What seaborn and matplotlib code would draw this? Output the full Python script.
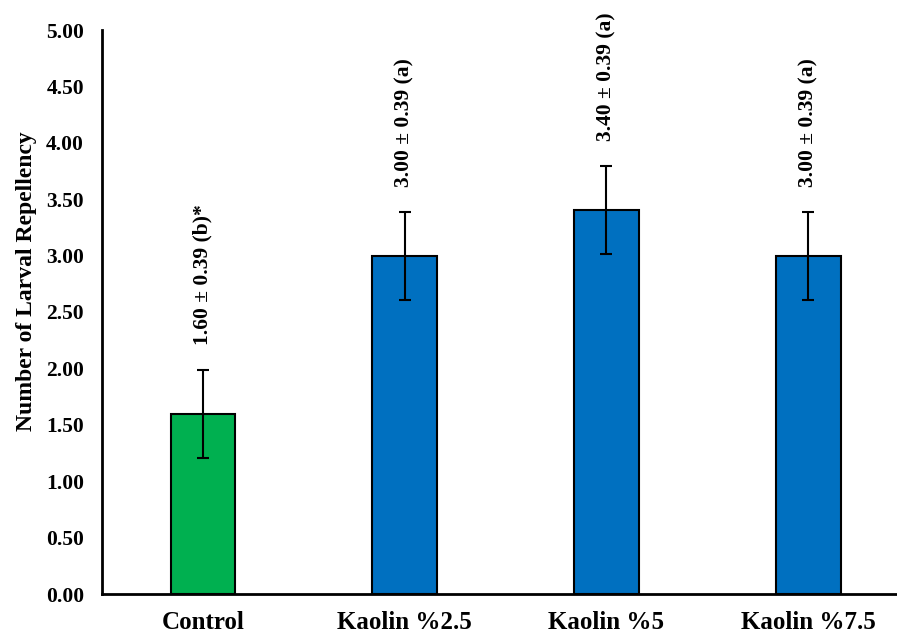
import matplotlib
matplotlib.use("Agg")
import matplotlib.pyplot as plt
import seaborn as sns
import pandas as pd

categories = ["Control", "Kaolin %2.5", "Kaolin %5", "Kaolin %7.5"]
means = [1.60, 3.00, 3.40, 3.00]
errors = [0.39, 0.39, 0.39, 0.39]
letters = ["(b)*", "(a)", "(a)", "(a)"]
colors = ["#00B050", "#0070C0", "#0070C0", "#0070C0"]
y_ticks = [0.0, 0.5, 1.0, 1.5, 2.0, 2.5, 3.0, 3.5, 4.0, 4.5, 5.0]

sns.set_style("white")
plt.rcParams["font.family"] = ["Liberation Serif", "DejaVu Serif"]
plt.rcParams["font.weight"] = "bold"
for k in ["text.color", "axes.labelcolor", "xtick.color", "ytick.color"]:
    plt.rcParams[k] = "black"

df = pd.DataFrame({"cat": categories, "val": means})

fig = plt.figure(figsize=(8.97, 6.34), dpi=100)
ax = fig.add_axes([102 / 897, 1 - 594 / 634, 1 - 102 / 897, (594 - 30) / 634])

sns.barplot(data=df, x="cat", y="val", hue="cat", palette=colors, legend=False,
            saturation=1, width=0.32, edgecolor="black", linewidth=1.5,
            errorbar=None, ax=ax)
ax.errorbar(range(len(categories)), means, yerr=errors, fmt="none",
            ecolor="black", elinewidth=1.5, capsize=4.5, capthick=1.5)

for i, (m, e, l) in enumerate(zip(means, errors, letters)):
    ax.annotate(f"{m:.2f} \u00b1 {e:.2f} {l}", xy=(i, m + e), xytext=(0, 18),
                textcoords="offset points", rotation=90, ha="center", va="bottom",
                fontsize=15.5, fontweight="bold", color="black")

ax.set_xlim(-0.5, 3.44)
ax.set_ylim(0, 5)
ax.set_yticks(y_ticks)
ax.set_yticklabels([f"{t:.2f}" for t in y_ticks], fontsize=15.5, fontweight="bold")
ax.set_xticks(range(len(categories)))
ax.set_xticklabels(categories, fontsize=18, fontweight="bold")
ax.tick_params(axis="both", length=0, colors="black")
ax.tick_params(axis="y", pad=13)
ax.tick_params(axis="x", pad=12)
ax.set_xlabel("")
ax.set_ylabel("Number of Larval Repellency", fontsize=17, fontweight="bold", color="black")
ax.yaxis.set_label_coords(-0.082, 0.555)

for s in ["top", "right"]:
    ax.spines[s].set_visible(False)
for s in ["left", "bottom"]:
    ax.spines[s].set_color("black")
    ax.spines[s].set_linewidth(2)

fig.savefig("out.png", dpi=100)
